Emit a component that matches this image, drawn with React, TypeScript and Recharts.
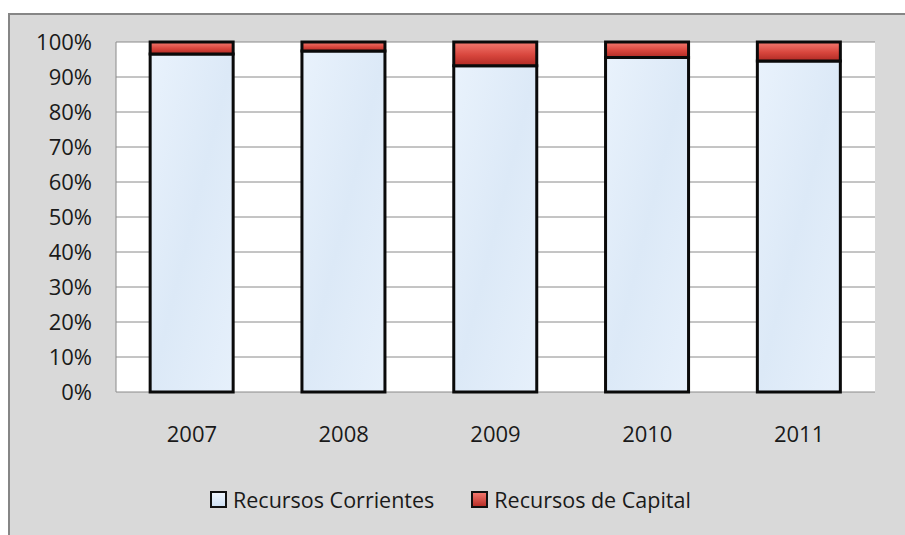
import { BarChart, Bar, XAxis, YAxis, CartesianGrid } from 'recharts'

const years = ['2007', '2008', '2009', '2010', '2011']
const corrientes = [96.6, 97.4, 93.2, 95.6, 94.6]
const capital = [3.4, 2.6, 6.8, 4.4, 5.4]
const yTicks = [0, 10, 20, 30, 40, 50, 60, 70, 80, 90, 100]
const seriesNames = ['Recursos Corrientes', 'Recursos de Capital']

const data = years.map((year, i) => ({
  year,
  corrientes: corrientes[i],
  capital: capital[i],
}))

const font = '"Open Sans", sans-serif'
const textColor = '#1a1a1a'

const LegendBox = ({ kind }: { kind: 'blue' | 'red' }) => (
  <span
    style={{
      display: 'inline-block',
      width: 13,
      height: 13,
      border: '2px solid #111',
      background:
        kind === 'blue'
          ? 'linear-gradient(#eef5fd, #cfe0f3)'
          : 'linear-gradient(#f2766c, #b92f28)',
      marginRight: 6,
    }}
  />
)

export default function App() {
  return (
    <div style={{ position: 'absolute', left: 0, top: 0, width: 905, height: 535, background: '#fff', overflow: 'hidden' }}>
      <div
        style={{
          position: 'absolute', left: 8, top: 13, width: 905, height: 535,
          background: '#d9d9d9', borderLeft: '2px solid #868686', borderTop: '2px solid #868686',
        }}
      />
      <div style={{ position: 'absolute', left: 0, top: 0 }}>
        <BarChart
          width={905}
          height={535}
          data={data}
          margin={{ top: 42, right: 30, left: 16, bottom: 0 }}
          barCategoryGap="22.5%"
        >
          <defs>
            <linearGradient id="redFill" x1="0" y1="0" x2="0" y2="1">
              <stop offset="0%" stopColor="#f37a70" />
              <stop offset="55%" stopColor="#d8463d" />
              <stop offset="100%" stopColor="#b02a24" />
            </linearGradient>
            <linearGradient id="blueFill" x1="0" y1="0" x2="1" y2="1">
              <stop offset="0%" stopColor="#e9f2fc" />
              <stop offset="50%" stopColor="#dce9f7" />
              <stop offset="100%" stopColor="#e6f0fb" />
            </linearGradient>
          </defs>
          <CartesianGrid vertical={false} stroke="#8a8a8a" fill="#fff" />
          <XAxis
            dataKey="year"
            height={143}
            tickLine={false}
            tickSize={0}
            tickMargin={34}
            axisLine={false}
            tick={{ fill: textColor, fontSize: 22, fontFamily: font }}
          />
          <YAxis
            width={100}
            domain={[0, 100]}
            ticks={yTicks}
            tickFormatter={(v: number) => `${v}%`}
            tickLine={false}
            tickSize={0}
            tickMargin={24}
            axisLine={{ stroke: '#8a8a8a' }}
            tick={{ fill: textColor, fontSize: 22, fontFamily: font }}
            interval={0}
          />
          <Bar dataKey="corrientes" stackId="a" fill="url(#blueFill)" stroke="#0a0a0a" strokeWidth={3} isAnimationActive={false} />
          <Bar dataKey="capital" stackId="a" fill="url(#redFill)" stroke="#0a0a0a" strokeWidth={3} isAnimationActive={false} />
        </BarChart>
      </div>
      <div
        style={{
          position: 'absolute', left: 210, top: 485, display: 'flex', alignItems: 'center',
          fontFamily: font, fontSize: 21.5, color: textColor, whiteSpace: 'nowrap',
        }}
      >
        <span style={{ display: 'flex', alignItems: 'center' }}>
          <LegendBox kind="blue" />
          {seriesNames[0]}
        </span>
        <span style={{ display: 'flex', alignItems: 'center', marginLeft: 37 }}>
          <LegendBox kind="red" />
          {seriesNames[1]}
        </span>
      </div>
    </div>
  )
}
